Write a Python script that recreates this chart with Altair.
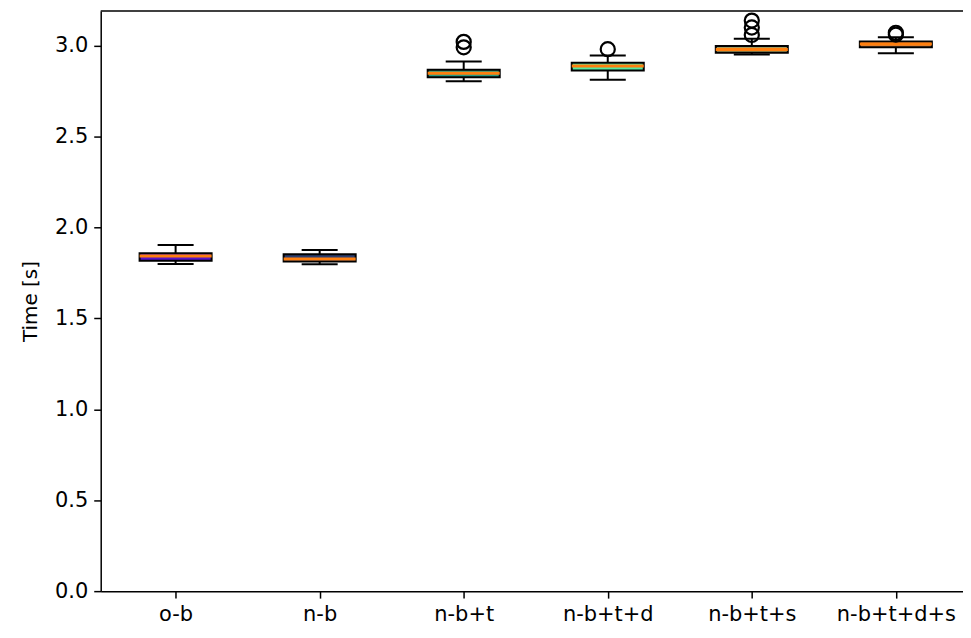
import altair as alt
import pandas as pd

categories = ["o-b", "n-b", "n-b+t", "n-b+t+d", "n-b+t+s", "n-b+t+d+s"]
positions = [1, 2, 3, 4, 5, 6]
q1 = [1.817, 1.812, 2.826, 2.863, 2.960, 2.991]
median = [1.843, 1.826, 2.847, 2.887, 2.978, 3.009]
q3 = [1.858, 1.852, 2.867, 2.905, 2.998, 3.022]
whisker_lo = [1.799, 1.797, 2.803, 2.812, 2.951, 2.958]
whisker_hi = [1.903, 1.876, 2.912, 2.945, 3.037, 3.046]
box_colors = ["#5a14c8", "#2e3f6e", "#2a9a80", "#55e8a0", "#a89a5a", "#d08040"]

outlier_cat = [3, 3, 4, 5, 5, 5, 6, 6]
outlier_val = [3.020, 2.990, 2.980, 3.137, 3.099, 3.058, 3.070, 3.060]

df = pd.DataFrame({
    "cat": categories, "pos": positions, "q1": q1, "median": median, "q3": q3,
    "lo": whisker_lo, "hi": whisker_hi, "color": box_colors,
})
dfo = pd.DataFrame({"pos": outlier_cat, "val": outlier_val})

font = "DejaVu Sans"
label_expr = "[" + ",".join("'" + c + "'" for c in categories) + "][datum.value - 1]"

W = 865
xscale = alt.Scale(domain=[0.48, 0.48 + W / 144.5], nice=False, zero=False)
yscale = alt.Scale(domain=[0, 3.19], nice=False, zero=True)

xaxis = alt.Axis(values=positions, labelExpr=label_expr, title=None, grid=False,
                 labelFont=font, labelFontSize=21, labelColor="black",
                 tickColor="black", tickSize=7, tickWidth=1.5,
                 domain=True, domainColor="black", domainWidth=1.5,
                 labelPadding=5)
yaxis = alt.Axis(values=[0, 0.5, 1.0, 1.5, 2.0, 2.5, 3.0], format=".1f", title="Time [s]",
                 grid=False, labelFont=font, labelFontSize=21, labelColor="black",
                 titleFont=font, titleFontSize=20, titleFontWeight="normal", titleColor="black",
                 tickColor="black", tickSize=7, tickWidth=1.5,
                 domain=True, domainColor="black", domainWidth=1.5,
                 labelPadding=6, titlePadding=14)

base = alt.Chart(df).transform_calculate(
    bl="datum.pos - 0.25", br="datum.pos + 0.25",
    cl="datum.pos - 0.125", cr="datum.pos + 0.125",
)

whisk = base.mark_rule(color="black", strokeWidth=2).encode(
    x=alt.X("pos:Q", scale=xscale, axis=xaxis),
    y=alt.Y("lo:Q", scale=yscale, axis=yaxis),
    y2="hi:Q",
)
cap_lo = base.mark_rule(color="black", strokeWidth=2).encode(
    x=alt.X("cl:Q", scale=xscale), x2="cr:Q", y=alt.Y("lo:Q", scale=yscale))
cap_hi = base.mark_rule(color="black", strokeWidth=2).encode(
    x=alt.X("cl:Q", scale=xscale), x2="cr:Q", y=alt.Y("hi:Q", scale=yscale))
box = base.mark_rect(stroke="black", strokeWidth=2).encode(
    x=alt.X("bl:Q", scale=xscale), x2="br:Q",
    y=alt.Y("q1:Q", scale=yscale), y2="q3:Q",
    fill=alt.Fill("color:N", scale=None),
)
med = base.mark_rule(color="#ff7f0e", strokeWidth=3).encode(
    x=alt.X("bl:Q", scale=xscale), x2="br:Q", y=alt.Y("median:Q", scale=yscale))
out = alt.Chart(dfo).mark_point(shape="circle", filled=False, color="black",
                                 strokeWidth=2.2, size=200, opacity=1).encode(
    x=alt.X("pos:Q", scale=xscale), y=alt.Y("val:Q", scale=yscale))
top_spine = alt.Chart(df.head(1)).mark_rule(color="black", strokeWidth=1.5).encode(
    x=alt.value(0), x2=alt.value(W), y=alt.value(0))

chart = alt.layer(whisk, cap_lo, cap_hi, box, med, out, top_spine).properties(
    width=W, height=582,
    background="white",
    autosize=alt.AutoSizeParams(type="none"),
    padding={"left": 93, "top": 2, "right": 0, "bottom": 36},
).configure_view(stroke=None)

chart.save("out.html", embed_options={"renderer": "svg", "actions": False})
